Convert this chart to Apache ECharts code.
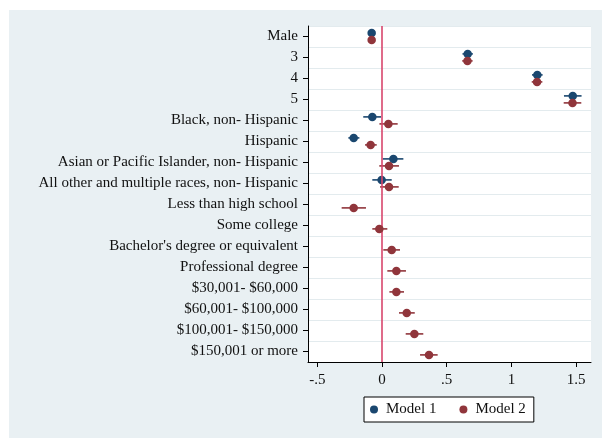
<!DOCTYPE html>
<html>
<head>
<meta charset="utf-8">
<script src="https://cdn.jsdelivr.net/npm/echarts@6/dist/echarts.min.js"></script>
<style>
html,body{margin:0;padding:0;background:#ffffff;}
#chart{width:602px;height:438px;}
</style>
</head>
<body>
<div id="chart"></div>
<script>
// ---- data ----
const categories = [
  "Male", "3", "4", "5",
  "Black, non- Hispanic", "Hispanic",
  "Asian or Pacific Islander, non- Hispanic",
  "All other and multiple races, non- Hispanic",
  "Less than high school", "Some college",
  "Bachelor's degree or equivalent", "Professional degree",
  "$30,001- $60,000", "$60,001- $100,000",
  "$100,001- $150,000", "$150,001 or more"
];
const model1Est = [-0.080, 0.662, 1.200, 1.474, -0.075, -0.219, 0.088, -0.003, null, null, null, null, null, null, null, null];
const model1Lo  = [-0.095, 0.622, 1.159, 1.406, -0.145, -0.260, 0.005, -0.075, null, null, null, null, null, null, null, null];
const model1Hi  = [-0.065, 0.702, 1.241, 1.542, -0.008, -0.175, 0.165, 0.075, null, null, null, null, null, null, null, null];
const model2Est = [-0.080, 0.660, 1.198, 1.472, 0.049, -0.088, 0.054, 0.054, -0.219, -0.021, 0.075, 0.111, 0.111, 0.191, 0.250, 0.363];
const model2Lo  = [-0.095, 0.620, 1.157, 1.404, -0.020, -0.131, -0.021, -0.015, -0.312, -0.075, 0.010, 0.041, 0.057, 0.131, 0.183, 0.294];
const model2Hi  = [-0.065, 0.700, 1.239, 1.540, 0.121, -0.041, 0.131, 0.129, -0.124, 0.041, 0.139, 0.185, 0.170, 0.253, 0.319, 0.430];
const xTickValues = [-0.5, 0, 0.5, 1, 1.5];
const xTickLabels = ["-.5", "0", ".5", "1", "1.5"];
const seriesNames = ["Model 1", "Model 2"];

// ---- build ----
const FONT = "'Liberation Serif', 'Times New Roman', serif";
const C1 = "#1a476f", C2 = "#90353b";
const OFF1 = -3.6, OFF2 = 3.4;

function pts(est){ const out=[]; est.forEach((v,i)=>{ if(v!==null) out.push([v,i]); }); return out; }
function cis(lo,hi){ const out=[]; lo.forEach((v,i)=>{ if(v!==null) out.push([v,hi[i],i]); }); return out; }
function ciRender(off,color){
  return function(params, api){
    const a = api.coord([api.value(0), api.value(2)]);
    const b = api.coord([api.value(1), api.value(2)]);
    return {type:'line', shape:{x1:a[0], y1:a[1]+off, x2:b[0], y2:b[1]+off},
            style:{stroke:color, lineWidth:1.6}};
  };
}

const chart = echarts.init(document.getElementById('chart'), null, {renderer:'canvas'});
chart.setOption({
  animation:false,
  backgroundColor:'#ffffff',
  graphic:[{type:'rect', z:-10, shape:{x:9, y:10, width:593, height:428}, style:{fill:'#e9f0f3'}, silent:true}],
  grid:{left:308, right:11, top:26, bottom:76, show:true, backgroundColor:'#ffffff', borderWidth:0, containLabel:false},
  legend:{
    data:[
      {name:seriesNames[0], icon:'circle', itemStyle:{color:C1}},
      {name:seriesNames[1], icon:'circle', itemStyle:{color:C2}}
    ],
    left:364, top:397, orient:'horizontal',
    itemWidth:8, itemHeight:8, itemGap:23,
    padding:[5,8,5,6],
    borderColor:'#000', borderWidth:1, backgroundColor:'#ffffff',
    textStyle:{fontFamily:FONT, fontSize:15, color:'#111', padding:[0,0,0,3], lineHeight:15}
  },
  xAxis:{
    type:'value', min:-0.572, max:1.615,
    axisLine:{show:true, onZero:false, lineStyle:{color:'#000', width:1}},
    axisTick:{show:true, length:5, customValues:xTickValues, lineStyle:{color:'#000'}},
    axisLabel:{customValues:xTickValues, margin:11, fontFamily:FONT, fontSize:15, color:'#111',
      formatter:function(v){ const i=xTickValues.findIndex(t=>Math.abs(t-v)<1e-9); return i>=0?xTickLabels[i]:''; }},
    splitLine:{show:false}
  },
  yAxis:{
    type:'category', data:categories, inverse:true, boundaryGap:true,
    axisLine:{show:true, onZero:false, lineStyle:{color:'#000', width:1}},
    axisTick:{show:true, alignWithLabel:true, length:5, lineStyle:{color:'#000'}},
    axisLabel:{margin:10, fontFamily:FONT, fontSize:15, color:'#111', interval:0},
    splitLine:{show:true, lineStyle:{color:'#e3ebee', width:1}}
  },
  series:[
    {type:'line', data:[], silent:true, z:1,
     markLine:{silent:true, symbol:['none','none'], label:{show:false},
       lineStyle:{color:'#d8466c', width:1.6, type:'solid'}, data:[{xAxis:0}]}},
    {type:'custom', name:seriesNames[0], data:cis(model1Lo,model1Hi), renderItem:ciRender(OFF1,C1), z:2,
     itemStyle:{color:C1}, encode:{x:[0,1], y:2}},
    {type:'scatter', name:seriesNames[0], data:pts(model1Est), symbol:'circle', symbolSize:8.5,
     symbolOffset:[0,OFF1], itemStyle:{color:C1, opacity:1}, z:3},
    {type:'custom', name:seriesNames[1], data:cis(model2Lo,model2Hi), renderItem:ciRender(OFF2,C2), z:4,
     itemStyle:{color:C2}, encode:{x:[0,1], y:2}},
    {type:'scatter', name:seriesNames[1], data:pts(model2Est), symbol:'circle', symbolSize:8.5,
     symbolOffset:[0,OFF2], itemStyle:{color:C2, opacity:1}, z:5}
  ]
});
</script>
</body>
</html>
